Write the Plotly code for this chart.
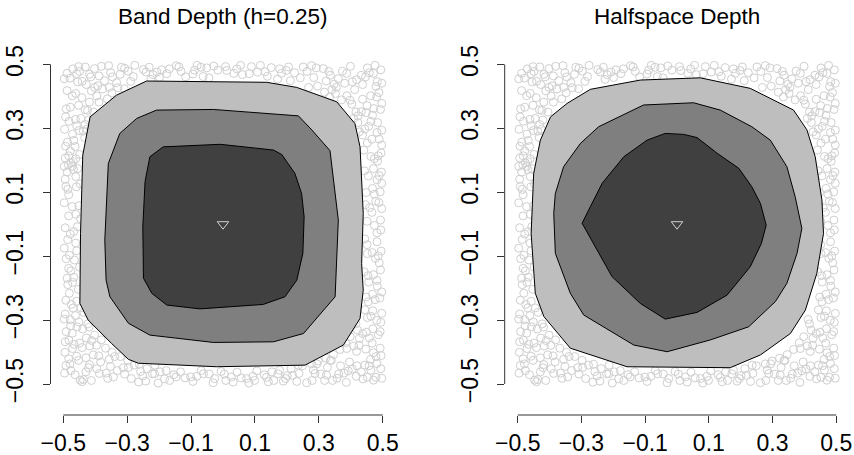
import plotly.graph_objects as go

FONT = "Liberation Sans, Arial, Helvetica, sans-serif"
W, H = 854, 455

titles = ["Band Depth (h=0.25)", "Halfspace Depth"]
tick_vals = [-0.5, -0.3, -0.1, 0.1, 0.3, 0.5]
tick_text = ["\u22120.5", "\u22120.3", "\u22120.1", "0.1", "0.3", "0.5"]
center = (0.0, 0.0)

# sample points (only the outer band is ever visible, the depth regions cover the rest)
top_pts = [
    (-0.488, 0.472), (-0.479, 0.457), (-0.470, 0.486), (-0.455, 0.445),
    (-0.449, 0.478), (-0.431, 0.492), (-0.428, 0.437), (-0.418, 0.469),
    (-0.402, 0.487), (-0.392, 0.433), (-0.388, 0.464),
    (-0.371, 0.449), (-0.358, 0.496), (-0.346, 0.461), (-0.333, 0.443),
    (-0.322, 0.469), (-0.318, 0.491), (-0.297, 0.479), (-0.281, 0.462),
    (-0.276, 0.497), (-0.249, 0.484), (-0.231, 0.491),
    (-0.219, 0.468), (-0.199, 0.459), (-0.176, 0.471),
    (-0.168, 0.486), (-0.138, 0.492), (-0.131, 0.478), (-0.117, 0.461),
    (-0.094, 0.470), (-0.081, 0.497), (-0.062, 0.462),
    (-0.051, 0.489), (-0.029, 0.495), (-0.016, 0.482),
    (0.008, 0.493), (0.043, 0.486), (0.055, 0.497),
    (0.061, 0.468), (0.089, 0.493), (0.108, 0.476),
    (0.117, 0.497), (0.139, 0.463), (0.151, 0.490),
    (0.171, 0.454), (0.177, 0.486), (0.205, 0.492), (0.211, 0.449),
    (0.224, 0.474), (0.242, 0.458), (0.263, 0.478),
    (0.277, 0.496), (0.284, 0.459), (0.296, 0.432), (0.314, 0.487),
    (0.323, 0.448), (0.336, 0.466), (0.355, 0.428), (0.361, 0.455),
    (0.374, 0.479), (0.381, 0.441), (0.399, 0.494), (0.412, 0.421),
    (0.418, 0.452), (0.437, 0.437), (0.446, 0.461), (0.452, 0.489),
    (0.471, 0.472), (0.479, 0.431), (0.494, 0.483),
    (0.497, 0.441),
    (-0.497, 0.455), (-0.458, 0.471), (-0.452, 0.493), (-0.441, 0.447),
    (-0.414, 0.461), (-0.381, 0.494), (-0.352, 0.474),
    (-0.308, 0.488), (-0.289, 0.447), (-0.241, 0.476),
    (-0.226, 0.453), (-0.207, 0.476), (-0.192, 0.483), (-0.146, 0.496),
    (-0.089, 0.482), (-0.069, 0.491), (-0.044, 0.458),
    (0.012, 0.481), (0.034, 0.472), (0.082, 0.471),
    (0.132, 0.477), (0.183, 0.472), (0.198, 0.481),
    (0.251, 0.492), (0.292, 0.489), (0.331, 0.478),
    (0.348, 0.438), (0.387, 0.472), (0.405, 0.446), (0.433, 0.466),
    (0.458, 0.474), (0.476, 0.497), (0.483, 0.446),
]
right_pts = [
    (0.488, 0.412), (0.462, 0.402), (0.437, 0.391), (0.451, 0.371),
    (0.493, 0.359), (0.433, 0.352), (0.468, 0.341), (0.484, 0.318),
    (0.456, 0.306), (0.497, 0.294), (0.437, 0.279), (0.489, 0.266),
    (0.452, 0.254), (0.441, 0.232), (0.495, 0.223), (0.463, 0.212),
    (0.484, 0.197), (0.471, 0.174), (0.496, 0.163), (0.455, 0.151),
    (0.482, 0.139), (0.468, 0.112), (0.492, 0.101),
    (0.478, 0.072), (0.446, 0.061), (0.497, 0.049), (0.466, 0.037),
    (0.451, 0.009), (0.474, -0.004), (0.494, -0.018), (0.444, -0.046),
    (0.482, -0.055), (0.495, -0.084), (0.452, -0.092), (0.477, -0.107),
    (0.489, -0.121), (0.442, -0.149), (0.471, -0.158),
    (0.456, -0.181), (0.483, -0.194), (0.468, -0.219), (0.491, -0.231),
    (0.455, -0.243), (0.444, -0.268), (0.497, -0.279), (0.463, -0.288),
    (0.481, -0.301), (0.469, -0.327), (0.492, -0.336), (0.437, -0.342),
    (0.458, -0.356), (0.426, -0.379), (0.447, -0.391), (0.471, -0.402),
    (0.495, -0.411), (0.418, -0.398), (0.462, -0.423),
    (0.481, 0.398), (0.497, 0.378), (0.472, 0.362), (0.448, 0.349),
    (0.463, 0.322), (0.444, 0.298), (0.482, 0.287), (0.466, 0.266),
    (0.497, 0.248), (0.486, 0.214), (0.474, 0.205), (0.443, 0.167),
    (0.489, 0.152), (0.497, 0.128), (0.474, 0.094), (0.448, 0.099),
    (0.488, 0.068), (0.459, 0.052), (0.493, 0.013),
    (0.482, -0.027), (0.451, -0.064), (0.467, -0.089), (0.486, -0.099),
    (0.493, -0.143), (0.454, -0.161), (0.482, -0.176),
    (0.497, -0.212), (0.476, -0.236), (0.448, -0.228), (0.469, -0.271),
    (0.452, -0.292), (0.494, -0.307), (0.486, -0.346), (0.449, -0.338),
    (0.467, -0.372), (0.492, -0.388), (0.479, -0.414),
]
left_pts = [
    (-0.488, 0.418), (-0.461, 0.409), (-0.442, 0.396), (-0.452, 0.372),
    (-0.491, 0.361), (-0.432, 0.358), (-0.445, 0.331), (-0.482, 0.322),
    (-0.458, 0.308), (-0.496, 0.297), (-0.437, 0.291), (-0.471, 0.282),
    (-0.487, 0.257), (-0.463, 0.243), (-0.478, 0.229), (-0.449, 0.218), (-0.494, 0.207),
    (-0.469, 0.196), (-0.484, 0.186), (-0.472, 0.181), (-0.455, 0.174), (-0.488, 0.163),
    (-0.461, 0.149), (-0.447, 0.126), (-0.492, 0.118),
    (-0.483, 0.092), (-0.497, 0.067), (-0.472, 0.055),
    (-0.461, 0.031), (-0.446, 0.017), (-0.494, -0.011), (-0.467, -0.023),
    (-0.486, -0.048), (-0.497, -0.075), (-0.458, -0.083),
    (-0.481, -0.097), (-0.465, -0.112), (-0.449, -0.134), (-0.476, -0.146),
    (-0.488, -0.169), (-0.471, -0.182), (-0.453, -0.204),
    (-0.481, -0.216), (-0.492, -0.238), (-0.475, -0.251), (-0.445, -0.262),
    (-0.462, -0.286), (-0.497, -0.297), (-0.451, -0.306), (-0.477, -0.318),
    (-0.439, -0.328), (-0.491, -0.336), (-0.428, -0.356), (-0.482, -0.363),
    (-0.449, -0.372), (-0.417, -0.381), (-0.471, -0.389), (-0.495, -0.401),
    (-0.458, -0.413), (-0.406, -0.409), (-0.483, -0.421),
    (-0.472, 0.402), (-0.478, 0.366), (-0.462, 0.328),
    (-0.493, 0.336), (-0.451, 0.293), (-0.467, 0.262),
    (-0.493, 0.244), (-0.483, 0.214), (-0.461, 0.205), (-0.497, 0.181),
    (-0.476, 0.192), (-0.468, 0.171), (-0.494, 0.141),
    (-0.486, 0.109), (-0.459, 0.117), (-0.451, 0.058),
    (-0.483, 0.026), (-0.456, -0.008), (-0.478, -0.031),
    (-0.461, -0.059), (-0.491, -0.108), (-0.483, -0.138),
    (-0.467, -0.166), (-0.486, -0.189), (-0.458, -0.241),
    (-0.469, -0.262), (-0.494, -0.281), (-0.478, -0.299), (-0.457, -0.321),
    (-0.472, -0.341), (-0.494, -0.368), (-0.466, -0.376),
    (-0.441, -0.386), (-0.452, -0.426), (-0.429, -0.418),
]
bottom_pts = [
    (-0.492, -0.442), (-0.476, -0.458), (-0.447, -0.488),
    (-0.441, -0.493), (-0.437, -0.486), (-0.429, -0.462), (-0.418, -0.439),
    (-0.395, -0.452), (-0.383, -0.431), (-0.366, -0.466), (-0.352, -0.445),
    (-0.343, -0.478), (-0.331, -0.458), (-0.308, -0.469), (-0.296, -0.448),
    (-0.287, -0.483), (-0.264, -0.494), (-0.251, -0.475), (-0.238, -0.452),
    (-0.214, -0.468), (-0.203, -0.497), (-0.178, -0.458),
    (-0.167, -0.489), (-0.154, -0.471), (-0.133, -0.462), (-0.119, -0.481),
    (-0.094, -0.492), (-0.082, -0.476), (-0.068, -0.458),
    (-0.043, -0.469), (-0.031, -0.496), (-0.006, -0.461), (0.009, -0.489),
    (0.032, -0.494), (0.044, -0.463), (0.057, -0.481),
    (0.081, -0.497), (0.094, -0.476), (0.106, -0.459), (0.129, -0.471),
    (0.142, -0.493), (0.153, -0.462), (0.177, -0.457), (0.189, -0.491),
    (0.201, -0.474), (0.213, -0.452), (0.238, -0.467), (0.249, -0.443),
    (0.262, -0.496), (0.283, -0.456), (0.294, -0.437), (0.306, -0.469),
    (0.318, -0.489), (0.327, -0.448), (0.339, -0.426), (0.357, -0.482),
    (0.368, -0.443), (0.379, -0.466), (0.386, -0.495), (0.396, -0.431), (0.405, -0.453),
    (0.417, -0.476), (0.433, -0.462), (0.444, -0.441), (0.452, -0.479),
    (0.463, -0.457), (0.471, -0.488), (0.482, -0.436), (0.497, -0.482),
    (-0.479, -0.437), (-0.463, -0.471), (-0.496, -0.466), (-0.421, -0.449),
    (-0.412, -0.489), (-0.387, -0.467), (-0.361, -0.482), (-0.312, -0.449),
    (-0.278, -0.441), (-0.258, -0.461), (-0.242, -0.491), (-0.221, -0.468),
    (-0.197, -0.462), (-0.183, -0.484), (-0.147, -0.478),
    (-0.101, -0.478), (-0.061, -0.468), (-0.026, -0.483),
    (0.004, -0.469), (0.026, -0.478), (0.074, -0.483), (0.099, -0.489),
    (0.136, -0.479), (0.159, -0.489), (0.172, -0.468), (0.196, -0.483),
    (0.218, -0.473), (0.231, -0.492), (0.279, -0.489), (0.288, -0.467),
    (0.324, -0.472), (0.343, -0.489), (0.362, -0.469),
    (0.392, -0.459), (0.419, -0.443), (0.438, -0.484), (0.457, -0.443),
    (0.479, -0.479), (0.494, -0.452),
]
corner_pts = [
    (-0.412, 0.417), (-0.395, 0.401), (-0.377, 0.423), (-0.362, 0.392), (-0.348, 0.411),
    (-0.329, 0.427), (-0.418, 0.382), (-0.405, 0.351), (-0.421, 0.326), (-0.426, 0.297),
    (-0.388, 0.382), (-0.309, 0.424), (-0.433, 0.271),
    (-0.402, 0.428), (-0.356, 0.428), (-0.424, 0.356), (-0.431, 0.312),
    (0.318, 0.413), (0.334, 0.398), (0.352, 0.409), (0.371, 0.389), (0.388, 0.402),
    (0.403, 0.376), (0.416, 0.351), (0.422, 0.318), (0.427, 0.289),
    (0.409, 0.331), (0.268, 0.428),
    (0.341, 0.421), (0.398, 0.388), (0.423, 0.339),
    (0.412, -0.298), (0.421, -0.331), (0.398, -0.352), (0.384, -0.371), (0.409, -0.381),
    (0.366, -0.392), (0.346, -0.408), (0.322, -0.419), (0.298, -0.428),
    (0.277, -0.437), (0.236, -0.441), (0.427, -0.357),
    (0.416, -0.312), (0.387, -0.389), (0.336, -0.426),
    (-0.262, -0.438), (-0.298, -0.426), (-0.321, -0.414), (-0.347, -0.401), (-0.368, -0.388),
    (-0.381, -0.362), (-0.402, -0.347), (-0.419, -0.322), (-0.436, -0.276),
    (-0.389, -0.412), (-0.356, -0.423), (-0.213, -0.441), (-0.411, -0.364),
    (-0.339, -0.414), (-0.396, -0.379), (-0.423, -0.312),
]

# band depth regions, outermost first
band_outer = [
    (-0.239, 0.448), (0.137, 0.444), (0.231, 0.428), (0.356, 0.383), (0.413, 0.315),
    (0.429, 0.242), (0.439, 0.034), (0.434, -0.123), (0.439, -0.206), (0.429, -0.295),
    (0.377, -0.378), (0.257, -0.441), (-0.020, -0.446), (-0.265, -0.435), (-0.296, -0.423),
    (-0.349, -0.373), (-0.422, -0.300), (-0.448, -0.248), (-0.446, -0.029), (-0.439, 0.216),
    (-0.416, 0.336), (-0.333, 0.404),
]
band_middle = [
    (-0.208, 0.357), (-0.030, 0.359), (0.236, 0.339), (0.278, 0.295), (0.335, 0.230),
    (0.351, 0.096), (0.361, 0.013), (0.351, -0.227), (0.252, -0.342), (0.158, -0.368),
    (-0.030, -0.370), (-0.229, -0.347), (-0.296, -0.310), (-0.354, -0.227), (-0.366, -0.175),
    (-0.370, -0.050), (-0.364, 0.076), (-0.359, 0.190), (-0.323, 0.284), (-0.270, 0.331),
]
band_inner = [
    (-0.187, 0.242), (-0.009, 0.250), (0.158, 0.232), (0.184, 0.218), (0.225, 0.159),
    (0.246, 0.096), (0.254, 0.023), (0.250, -0.091), (0.231, -0.175), (0.194, -0.227),
    (0.126, -0.251), (-0.072, -0.265), (-0.176, -0.253), (-0.223, -0.216), (-0.249, -0.169),
    (-0.251, -0.008), (-0.244, 0.133), (-0.229, 0.211),
]

# halfspace depth regions, outermost first
half_outer = [
    (-0.272, 0.422), (-0.115, 0.451), (0.073, 0.458), (0.230, 0.425), (0.366, 0.357),
    (0.408, 0.295), (0.434, 0.211), (0.455, 0.076), (0.460, -0.029), (0.439, -0.154),
    (0.403, -0.269), (0.356, -0.342), (0.262, -0.409), (0.167, -0.449), (-0.157, -0.446),
    (-0.335, -0.388), (-0.418, -0.289), (-0.445, -0.216), (-0.458, -0.029), (-0.450, 0.159),
    (-0.429, 0.263), (-0.397, 0.336), (-0.345, 0.378),
]
half_middle = [
    (-0.246, 0.305), (-0.105, 0.373), (0.052, 0.380), (0.136, 0.357), (0.235, 0.305),
    (0.293, 0.263), (0.345, 0.180), (0.371, 0.086), (0.392, -0.013), (0.377, -0.091),
    (0.345, -0.185), (0.309, -0.242), (0.225, -0.321), (0.105, -0.362), (-0.031, -0.399),
    (-0.136, -0.378), (-0.293, -0.284), (-0.335, -0.216), (-0.382, -0.091), (-0.387, 0.034),
    (-0.382, 0.096), (-0.356, 0.180), (-0.303, 0.253),
]
half_inner = [
    (-0.037, 0.284), (0.021, 0.281), (0.063, 0.271), (0.126, 0.222), (0.194, 0.175),
    (0.235, 0.117), (0.262, 0.065), (0.280, -0.003), (0.265, -0.060), (0.230, -0.133),
    (0.157, -0.222), (0.063, -0.276), (-0.037, -0.297), (-0.115, -0.248), (-0.204, -0.164),
    (-0.251, -0.081), (-0.298, 0.003), (-0.272, 0.055), (-0.235, 0.128), (-0.167, 0.211),
    (-0.094, 0.263),
]

region_fills = ["#BEBEBE", "#7F7F7F", "#404040"]
point_color = "#CFCFCF"

pts = top_pts + right_pts + left_pts + bottom_pts + corner_pts
pts_x = [p[0] for p in pts]
pts_y = [p[1] for p in pts]

fig = go.Figure()


def add_panel(xa, ya, regions):
    fig.add_trace(go.Scatter(
        x=pts_x, y=pts_y, mode="markers", xaxis=xa, yaxis=ya, hoverinfo="skip",
        marker=dict(symbol="circle-open", size=8, color=point_color, line=dict(width=1)),
        showlegend=False))
    for poly, col in zip(regions, region_fills):
        xs = [p[0] for p in poly] + [poly[0][0]]
        ys = [p[1] for p in poly] + [poly[0][1]]
        fig.add_trace(go.Scatter(
            x=xs, y=ys, mode="lines", fill="toself", fillcolor=col,
            line=dict(color="black", width=1), xaxis=xa, yaxis=ya,
            hoverinfo="skip", showlegend=False))
    fig.add_trace(go.Scatter(
        x=[center[0]], y=[center[1]], mode="markers", xaxis=xa, yaxis=ya,
        marker=dict(symbol="triangle-down-open", size=10, color=point_color,
                    line=dict(width=1)),
        hoverinfo="skip", showlegend=False))


add_panel("x", "y", [band_outer, band_middle, band_inner])
add_panel("x2", "y2", [half_outer, half_middle, half_inner])

# plot regions in pixels (left, right); shared top and bottom
panels = [(50.5, 395.5), (504.7, 849.3)]
y_top, y_bot = 33.4, 415.0
y_dom = [1 - y_bot / H, 1 - y_top / H]
x_half = [0.54, 0.541]
y_half = 0.597

axis_common = dict(
    showgrid=False, zeroline=False, showline=False, ticks="outside", ticklen=7,
    tickwidth=1, tickcolor="#333333", tickvals=tick_vals, ticktext=tick_text,
    tickfont=dict(family=FONT, size=23, color="black"), fixedrange=True,
    automargin=False,
)

layout = dict(
    width=W, height=H, margin=dict(l=0, r=0, t=0, b=0, pad=0, autoexpand=False),
    paper_bgcolor="white", plot_bgcolor="white", showlegend=False,
    font=dict(family=FONT, color="black"),
)
shapes = []
annotations = []
for i, ((pl, pr), t) in enumerate(zip(panels, titles)):
    sx = "" if i == 0 else str(i + 1)
    layout["xaxis" + sx] = dict(axis_common, domain=[pl / W, pr / W],
                                range=[-x_half[i], x_half[i]], anchor="y" + sx)
    layout["yaxis" + sx] = dict(axis_common, domain=y_dom, range=[-y_half, y_half],
                                anchor="x" + sx, tickangle=-90, ticklabelstandoff=10)
    # axis lines span only the tick range
    shapes.append(dict(type="line", xref="x" + sx, yref="y" + sx + " domain",
                       x0=tick_vals[0], x1=tick_vals[-1], y0=0, y1=0,
                       line=dict(color="#333333", width=1)))
    shapes.append(dict(type="line", xref="x" + sx + " domain", yref="y" + sx,
                       x0=0, x1=0, y0=tick_vals[0], y1=tick_vals[-1],
                       line=dict(color="#333333", width=1)))
    annotations.append(dict(text=t, xref="paper", yref="paper",
                            x=(pl + pr) / 2 / W, y=1 - 16.5 / H,
                            xanchor="center", yanchor="middle", showarrow=False,
                            font=dict(family=FONT, size=22.5, color="black")))

layout["shapes"] = shapes
layout["annotations"] = annotations
fig.update_layout(**layout)

fig.write_html("out.html")
